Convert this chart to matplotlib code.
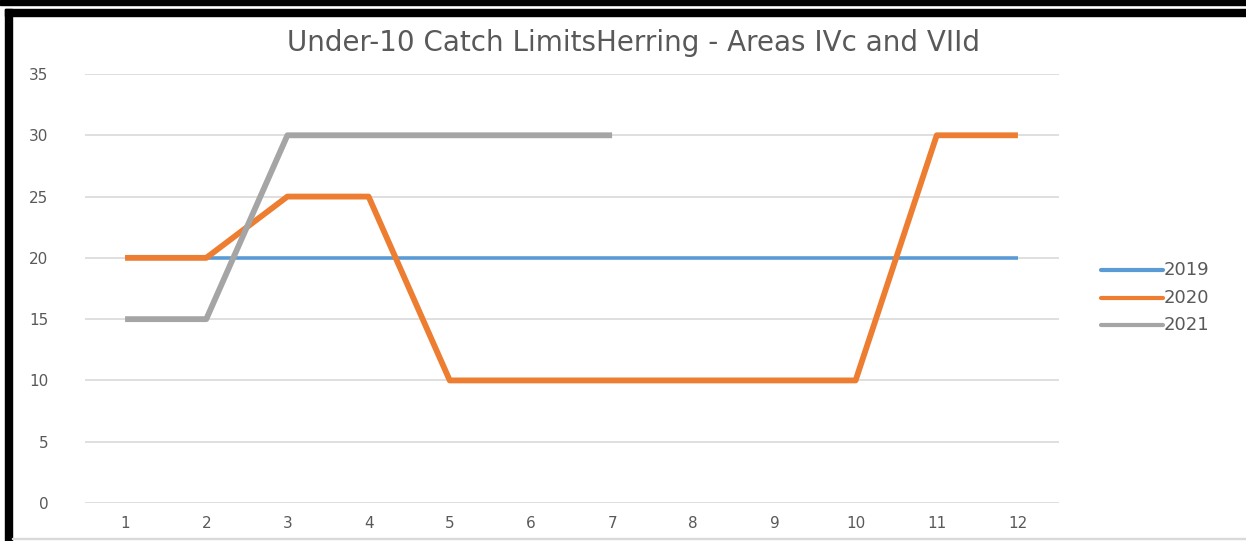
import matplotlib
matplotlib.use("Agg")
import matplotlib.pyplot as plt
from matplotlib.patches import Rectangle
from matplotlib.lines import Line2D

months = [1, 2, 3, 4, 5, 6, 7, 8, 9, 10, 11, 12]
s2019 = [20, 20, 20, 20, 20, 20, 20, 20, 20, 20, 20, 20]
s2020 = [20, 20, 25, 25, 10, 10, 10, 10, 10, 10, 30, 30]
s2021 = [15, 15, 30, 30, 30, 30, 30]
series_names = ["2019", "2020", "2021"]
title = "Under-10 Catch LimitsHerring - Areas IVc and VIId"
yticks = [0, 5, 10, 15, 20, 25, 30, 35]

W, H = 1246, 541
plt.rcParams['font.family'] = ['DejaVu Sans']
fig = plt.figure(figsize=(W / 100, H / 100), dpi=100)

def fx(x):
    return x / W

def fy(y):
    return 1 - y / H

# frame / borders of the screenshot
fig.patches.append(Rectangle((0, fy(5)), 1, 5 / H, transform=fig.transFigure, color='black', zorder=0))
fig.patches.append(Rectangle((fx(5), fy(16)), 1, 7 / H, transform=fig.transFigure, color='black', zorder=0))
fig.patches.append(Rectangle((fx(5), 0), 7 / W, fy(9), transform=fig.transFigure, color='black', zorder=0))
fig.patches.append(Rectangle((fx(12), fy(539)), 1, 1 / H, transform=fig.transFigure, color='#D9D9D9', zorder=0))

ax = fig.add_axes([fx(84.5), fy(503), (1058.5 - 84.5) / W, (503 - 74) / H])
ax.set_xlim(0.5, 12.5)
ax.set_ylim(0, 35)
for s in ax.spines.values():
    s.set_visible(False)
ax.set_yticks(yticks)
ax.set_xticks(months)
ax.yaxis.grid(True, color='#D9D9D9', linewidth=1.2)
ax.set_axisbelow(True)
ax.tick_params(length=0, colors='#595959', labelsize=11)
ax.tick_params(axis='y', pad=26)
ax.tick_params(axis='x', pad=9)

colors = ['#5B9BD5', '#ED7D31', '#A5A5A5']
widths = [2.6, 4.2, 4.2]
data = [s2019, s2020, s2021]
for name, vals, c, lw in zip(series_names, data, colors, widths):
    ax.plot(months[:len(vals)], vals, color=c, linewidth=lw, solid_capstyle='butt',
            solid_joinstyle='round', label=name)

fig.text(fx(633), fy(43), title, ha='center', va='center', fontsize=20, color='#595959')

# legend
leg_y = [270, 298, 325]
for name, c, ly in zip(series_names, colors, leg_y):
    fig.lines.append(Line2D([fx(1101), fx(1163)], [fy(ly), fy(ly)], transform=fig.transFigure,
                            color=c, linewidth=3, solid_capstyle='round'))
    fig.text(fx(1164), fy(ly), name, ha='left', va='center', fontsize=13, color='#595959')

fig.savefig('out.png', dpi=100, facecolor='white')
